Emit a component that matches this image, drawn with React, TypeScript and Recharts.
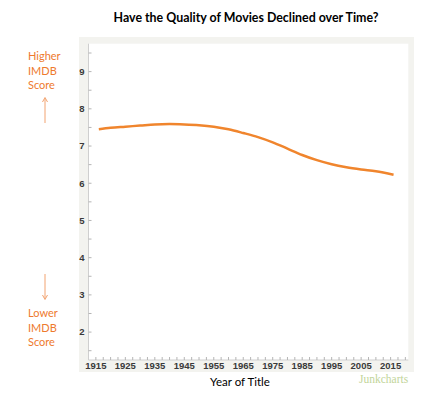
import React from 'react';
import { LineChart, Line, XAxis, YAxis, CartesianGrid } from 'recharts';

const years = [1916, 1920, 1925, 1930, 1935, 1940, 1945, 1950, 1955, 1960, 1965, 1970, 1975, 1980, 1985, 1990, 1995, 2000, 2005, 2010, 2016];
const scores = [7.45, 7.49, 7.52, 7.55, 7.58, 7.59, 7.58, 7.56, 7.52, 7.45, 7.35, 7.24, 7.10, 6.93, 6.76, 6.62, 6.51, 6.43, 6.37, 6.32, 6.23];
const xTicks = [1915, 1917.5, 1920, 1922.5, 1925, 1927.5, 1930, 1932.5, 1935, 1937.5, 1940, 1942.5, 1945, 1947.5, 1950, 1952.5, 1955, 1957.5, 1960, 1962.5, 1965, 1967.5, 1970, 1972.5, 1975, 1977.5, 1980, 1982.5, 1985, 1987.5, 1990, 1992.5, 1995, 1997.5, 2000, 2002.5, 2005, 2007.5, 2010, 2012.5, 2015, 2017.5, 2020];
const xLabels = [1915, 1925, 1935, 1945, 1955, 1965, 1975, 1985, 1995, 2005, 2015];
const yTicks = [1.5, 2, 2.5, 3, 3.5, 4, 4.5, 5, 5.5, 6, 6.5, 7, 7.5, 8, 8.5, 9, 9.5];
const yLabels = [2, 3, 4, 5, 6, 7, 8, 9];

const data = years.map((y, i) => ({ year: y, score: scores[i] }));

const orange = '#ee7a2e';
const tickStyle = { fontFamily: '"Liberation Sans", Arial, sans-serif', fontSize: 9.5, fontWeight: 700, fill: '#3a3a3a' };

export default function App() {
  return (
    <div style={{ position: 'absolute', left: 0, top: 0, width: 433, height: 406, background: '#fff', fontFamily: 'Lato, sans-serif' }}>
      <div style={{ position: 'absolute', left: 79, top: 37, width: 335, height: 335, background: '#f3f3ef' }} />
      <div style={{ position: 'absolute', left: 0, top: 10, width: 492, textAlign: 'center', fontSize: 12.4, fontWeight: 700, color: '#000' }}>
        Have the Quality of Movies Declined over Time?
      </div>
      <div style={{ position: 'absolute', left: 28, top: 49, fontSize: 11, lineHeight: '14.5px', color: orange }}>
        Higher<br />IMDB<br />Score
      </div>
      <div style={{ position: 'absolute', left: 28, top: 306, fontSize: 11, lineHeight: '14.5px', color: orange }}>
        Lower<br />IMDB<br />Score
      </div>
      <svg style={{ position: 'absolute', left: 40, top: 96 }} width={10} height={28}>
        <line x1={5} y1={3} x2={5} y2={27} stroke="#f2a370" strokeWidth={1} />
        <path d="M2.5,6 L5,1.5 L7.5,6" fill="none" stroke="#f2a370" strokeWidth={1} />
      </svg>
      <svg style={{ position: 'absolute', left: 40, top: 273 }} width={10} height={28}>
        <line x1={5} y1={1} x2={5} y2={25} stroke="#f2a370" strokeWidth={1} />
        <path d="M2.5,22 L5,26.5 L7.5,22" fill="none" stroke="#f2a370" strokeWidth={1} />
      </svg>
      <div style={{ position: 'absolute', left: 190, top: 375, width: 100, textAlign: 'center', fontSize: 11.5, color: '#000' }}>
        Year of Title
      </div>
      <div style={{ position: 'absolute', left: 359, top: 373, fontSize: 11.5, fontFamily: '"Liberation Serif", "DejaVu Serif", serif', color: '#c2d59a' }}>
        Junkcharts
      </div>
      <div style={{ position: 'absolute', left: 0, top: 0 }}>
        <LineChart width={433} height={406} data={data} margin={{ top: 43.7, right: 24.7, bottom: 26, left: 0 }}>
          <CartesianGrid fill="#ffffff" horizontal={false} vertical={false} />
          <XAxis
            dataKey="year"
            type="number"
            domain={[1912.5, 2021]}
            ticks={xTicks}
            interval={0}
            height={20}
            tickSize={-3}
            tickMargin={5.5}
            tickFormatter={(v: number) => (xLabels.includes(v) ? String(v) : '')}
            tick={tickStyle}
            axisLine={{ stroke: '#cfcfcf' }}
            tickLine={{ stroke: '#b5b5b5' }}
            allowDataOverflow
          />
          <XAxis xAxisId="top" orientation="top" type="number" domain={[1912.5, 2021]} height={0} tick={false} tickLine={false} axisLine={{ stroke: '#cfcfcf' }} />
          <YAxis
            type="number"
            domain={[1.25, 9.75]}
            ticks={yTicks}
            interval={0}
            width={88.5}
            tickSize={-3}
            tickMargin={7}
            tickFormatter={(v: number) => (yLabels.includes(v) ? String(v) : '')}
            tick={tickStyle}
            axisLine={{ stroke: '#cfcfcf' }}
            tickLine={{ stroke: '#b5b5b5' }}
            allowDataOverflow
          />
          <YAxis yAxisId="right" orientation="right" type="number" domain={[1.25, 9.75]} width={0} tick={false} tickLine={false} axisLine={{ stroke: '#cfcfcf' }} />
          <Line type="monotone" dataKey="score" stroke="#f0852d" strokeWidth={2.5} dot={false} isAnimationActive={false} />
        </LineChart>
      </div>
    </div>
  );
}
